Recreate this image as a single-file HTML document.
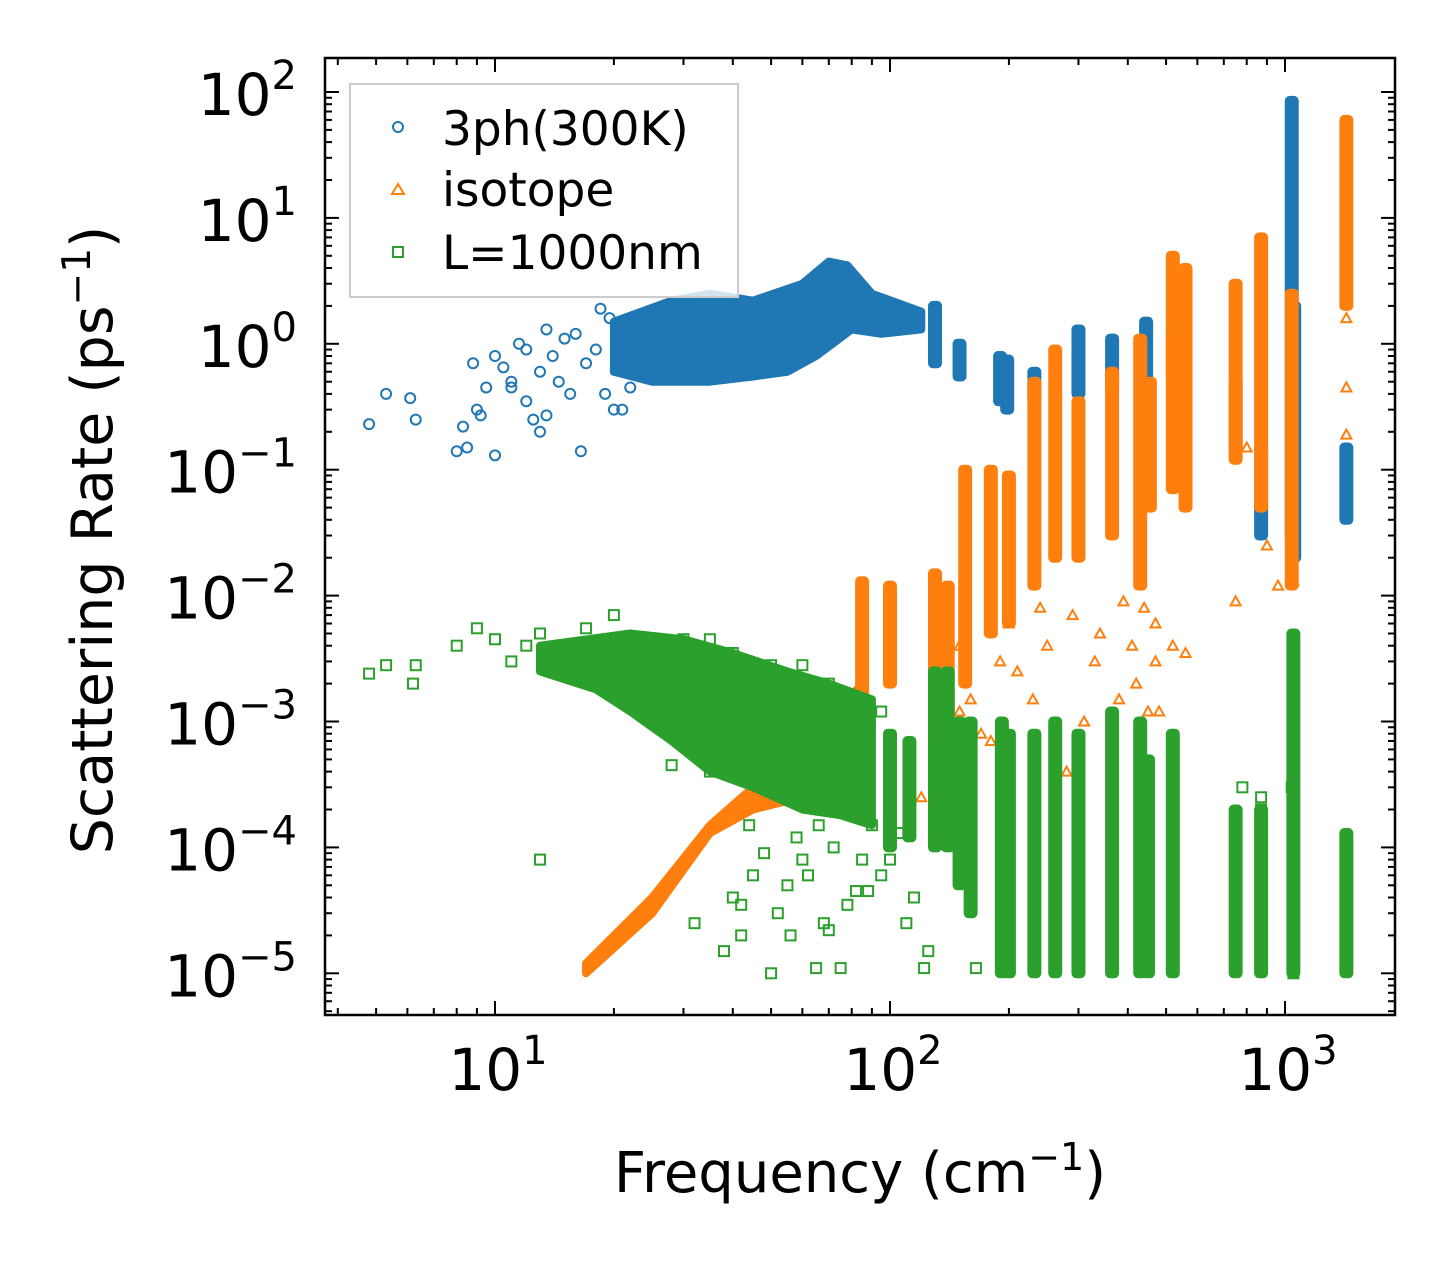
<!DOCTYPE html>
<html><head><meta charset="utf-8"><style>
html,body{margin:0;padding:0;background:#fff;}
svg{display:block;font-family:"DejaVu Sans","Liberation Sans",sans-serif;}
</style></head><body>
<svg id="chart" width="1455" height="1265" viewBox="0 0 1455 1265" xmlns="http://www.w3.org/2000/svg">
<rect width="1455" height="1265" fill="#fff"/>
<g id="marks"></g>
<g id="axes"></g>
<text x="860" y="1192" font-size="56" text-anchor="middle">Frequency (cm<tspan font-size="38" dy="-22">−1</tspan><tspan dy="22">)</tspan></text>
<text transform="translate(112,540) rotate(-90)" font-size="57" text-anchor="middle">Scattering Rate (ps<tspan font-size="39" dy="-22">−1</tspan><tspan dy="22">)</tspan></text>
<g>
<rect x="350" y="84" width="388" height="213" fill="#fff" fill-opacity="0.8" stroke="#ccc" stroke-width="2"/>
<circle cx="398" cy="127" r="5" fill="none" stroke="#1f77b4" stroke-width="2"/>
<text x="442" y="145" font-size="47">3ph(300K)</text>
<path d="M398,184 L404,194 L392,194 Z" fill="none" stroke="#ff7f0e" stroke-width="2"/>
<text x="442" y="206" font-size="47">isotope</text>
<rect x="393" y="247" width="10" height="10" fill="none" stroke="#2ca02c" stroke-width="2"/>
<text x="442" y="269" font-size="47">L=1000nm</text>
</g>
</svg>
<script>
const xTicks = [10, 100, 1000];
const xTickLabels = ["1", "2", "3"];
const yTicks = [1e2, 1e1, 1e0, 1e-1, 1e-2, 1e-3, 1e-4, 1e-5];
const yTickLabels = ["2", "1", "0", "\u22121", "\u22122", "\u22123", "\u22124", "\u22125"];

const bandFreq3ph = [130, 150, 190, 198, 232, 300, 365, 445, 520, 750, 870, 1040, 1055, 1430];
const bandLo3ph =   [0.7, 0.55, 0.35, 0.3, 0.35, 0.4, 0.45, 0.4, 0.55, 0.15, 0.03, 0.03, 0.02, 0.04];
const bandHi3ph =   [2.0, 1.0, 0.8, 0.75, 0.6, 1.3, 1.1, 1.5, 1.2, 0.5, 0.15, 85, 2.0, 0.15];

const bandFreqIso = [85, 100, 130, 140, 155, 180, 200, 232, 262, 300, 365, 430, 455, 520, 560, 750, 870, 1040, 1430];
const bandLoIso =   [0.0015, 0.002, 0.002, 0.001, 0.002, 0.005, 0.006, 0.012, 0.02, 0.02, 0.03, 0.012, 0.05, 0.07, 0.05, 0.12, 0.05, 0.012, 2];
const bandHiIso =   [0.013, 0.012, 0.015, 0.012, 0.1, 0.1, 0.09, 0.5, 0.9, 0.35, 0.6, 1.1, 0.5, 5, 4, 3, 7, 2.5, 60];

const bandFreqBd = [100, 112, 130, 140, 150, 160, 192, 200, 232, 262, 300, 365, 430, 450, 520, 750, 870, 1050, 1430];
const bandLoBd =   [1e-4, 1.2e-4, 1e-4, 1e-4, 5e-5, 3e-5, 1e-5, 1e-5, 1e-5, 1e-5, 1e-5, 1e-5, 1e-5, 1e-5, 1e-5, 1e-5, 1e-5, 1e-5, 1e-5];
const bandHiBd =   [8e-4, 7e-4, 2.5e-3, 2.5e-3, 1e-3, 1e-3, 1e-3, 8e-4, 8e-4, 1e-3, 8e-4, 1.2e-3, 1e-3, 5e-4, 8e-4, 2e-4, 2e-4, 5e-3, 1.3e-4];

const cloud3phX = [20, 28, 35, 45, 60, 70, 78, 90, 120, 120, 95, 80, 65, 55, 45, 35, 25, 20];
const cloud3phY = [1.5, 2.2, 2.5, 2.2, 3.0, 4.5, 4.2, 2.5, 1.8, 1.3, 1.2, 1.3, 0.8, 0.6, 0.55, 0.5, 0.5, 0.6];
const cloudIsoX = [17, 25, 35, 45, 60, 85, 90, 85, 60, 45, 35, 25, 17];
const cloudIsoY = [1.2e-5, 4e-5, 1.5e-4, 3e-4, 6e-4, 2e-3, 1e-3, 3e-4, 2.5e-4, 2e-4, 1.3e-4, 3e-5, 1e-5];
const cloudBdX = [13, 22, 30, 40, 55, 70, 90, 90, 75, 60, 45, 35, 28, 22, 18, 13];
const cloudBdY = [4e-3, 5e-3, 4.5e-3, 3.5e-3, 2.5e-3, 2e-3, 1.5e-3, 1.5e-4, 1.8e-4, 2e-4, 3e-4, 4e-4, 7e-4, 1.2e-3, 1.8e-3, 2.5e-3];

const pts3phX = [4.8, 5.3, 6.1, 6.3, 8, 8.3, 8.5, 8.8, 9, 9.5, 10, 10, 10.5, 11, 11.5, 12, 12.5, 13, 13, 13.5, 14, 14.5, 15, 15.5, 16, 16.5, 17, 18, 19, 19.5, 20, 13.5, 12, 9.2, 11, 21, 22, 18.5];
const pts3phY = [0.23, 0.4, 0.37, 0.25, 0.14, 0.22, 0.15, 0.7, 0.3, 0.45, 0.13, 0.8, 0.65, 0.5, 1.0, 0.9, 0.25, 0.2, 0.6, 1.3, 0.8, 0.5, 1.1, 0.4, 1.2, 0.14, 0.7, 0.9, 0.4, 1.6, 0.3, 0.27, 0.35, 0.27, 0.45, 0.3, 0.45, 1.9];
const ptsIsoX = [150, 160, 170, 190, 230, 250, 290, 310, 340, 380, 420, 470, 480, 560, 750, 800, 900, 960, 1050, 1430, 1430, 1430, 120, 180, 280, 450, 200, 240, 330, 410, 440, 470, 520, 390, 150, 210];
const ptsIsoY = [0.0012, 0.0015, 0.0008, 0.003, 0.0015, 0.004, 0.007, 0.001, 0.005, 0.0015, 0.002, 0.003, 0.0012, 0.0035, 0.009, 0.15, 0.025, 0.012, 0.013, 0.45, 0.19, 1.6, 0.00025, 0.0007, 0.0004, 0.0012, 0.006, 0.008, 0.003, 0.004, 0.008, 0.006, 0.004, 0.009, 0.004, 0.0025];
const ptsBdX = [4.8, 5.3, 6.3, 6.2, 8, 9, 10, 11, 12, 13, 14, 13, 17, 20, 25, 30, 35, 40, 45, 50, 60, 70, 80, 88, 95, 50, 55, 42, 38, 65, 75, 110, 122, 125, 165, 200, 780, 870, 1050, 1040, 870,
  40, 45, 48, 52, 58, 62, 68, 72, 78, 85, 90, 95, 105, 115, 35, 32, 44, 56, 66, 82, 100, 28, 42, 60, 70, 88];
const ptsBdY = [0.0024, 0.0028, 0.0028, 0.002, 0.004, 0.0055, 0.0045, 0.003, 0.004, 0.005, 0.0035, 8e-5, 0.0055, 0.007, 0.0045, 0.0045, 0.0045, 0.0035, 0.0018, 0.0028, 0.0028, 0.002, 0.0015, 0.0013, 0.0012, 1e-5, 5e-5, 2e-5, 1.5e-5, 1.1e-5, 1.1e-5, 2.5e-5, 1.1e-5, 1.5e-5, 1.1e-5, 1.2e-5, 3e-4, 2.5e-4, 1e-5, 3e-4, 2e-4,
  4e-5, 6e-5, 9e-5, 3e-5, 1.2e-4, 6e-5, 2.5e-5, 1e-4, 3.5e-5, 8e-5, 1.5e-4, 6e-5, 1.3e-4, 4e-5, 4e-4, 2.5e-5, 1.5e-4, 2e-5, 1.5e-4, 4.5e-5, 8e-5, 4.5e-4, 3.5e-5, 8e-5, 2.2e-5, 4.5e-5];

const L = 325, R = 1395, T = 58, B = 1015;
const x10 = 495, pxDecX = 395;
const y100 = 92, pxDecY = 125.9;
const xs = v => x10 + (Math.log10(v) - 1) * pxDecX;
const ys = v => y100 - (Math.log10(v) - 2) * pxDecY;
const NS = "http://www.w3.org/2000/svg";
const marks = document.getElementById('marks');
const axes = document.getElementById('axes');
function mk(tag, attrs, parent) {
  const e = document.createElementNS(NS, tag);
  for (const k in attrs) e.setAttribute(k, attrs[k]);
  parent.appendChild(e);
  return e;
}
const C3 = "#1f77b4", CI = "#ff7f0e", CB = "#2ca02c";

function cloud(X, Y, color, name) {
  const p = mk('polygon', {points: X.map((x, i) => xs(x) + ',' + ys(Y[i])).join(' '), fill: color, stroke: color, 'stroke-width': 8, 'stroke-linejoin': 'round'}, marks);
  
  
}
function bands(F, Lo, Hi, color, name) {
  F.forEach((f, i) => {
    const r = mk('rect', {x: xs(f) - 7, y: ys(Hi[i]) - 5, width: 14, height: ys(Lo[i]) - ys(Hi[i]) + 10, rx: 5, fill: color}, marks);
    
    
  });
}
function circles(X, Y, color, name) {
  X.forEach((x, i) => {
    const c = mk('circle', {cx: xs(x), cy: ys(Y[i]), r: 5, fill: 'none', stroke: color, 'stroke-width': 2}, marks);
    
    
  });
}
function tris(X, Y, color, name) {
  X.forEach((x, i) => {
    const cx = xs(x), cy = ys(Y[i]);
    const p = mk('path', {d: `M${cx},${cy - 5} L${cx + 5},${cy + 4} L${cx - 5},${cy + 4} Z`, fill: 'none', stroke: color, 'stroke-width': 2}, marks);
    
    
  });
}
function squares(X, Y, color, name) {
  X.forEach((x, i) => {
    const s = mk('rect', {x: xs(x) - 5, y: ys(Y[i]) - 5, width: 10, height: 10, fill: 'none', stroke: color, 'stroke-width': 2}, marks);
    
    
  });
}
cloud(cloud3phX, cloud3phY, C3, '3ph-cloud');
bands(bandFreq3ph, bandLo3ph, bandHi3ph, C3, '3ph-band');
circles(pts3phX, pts3phY, C3, '3ph-point');
cloud(cloudIsoX, cloudIsoY, CI, 'isotope-cloud');
bands(bandFreqIso, bandLoIso, bandHiIso, CI, 'isotope-band');
tris(ptsIsoX, ptsIsoY, CI, 'isotope-point');
cloud(cloudBdX, cloudBdY, CB, 'boundary-cloud');
bands(bandFreqBd, bandLoBd, bandHiBd, CB, 'boundary-band');
squares(ptsBdX, ptsBdY, CB, 'boundary-point');

const fr = mk('rect', {x: L, y: T, width: R - L, height: B - T, fill: 'none', stroke: '#000', 'stroke-width': 2.5}, axes);


for (let d = 0; d <= 3; d++) {
  for (let m = 1; m <= 9; m++) {
    const v = m * Math.pow(10, d);
    const x = xs(v);
    if (x < L || x > R) continue;
    const len = m === 1 ? 14 : 7;
    mk('line', {x1: x, y1: B, x2: x, y2: B - len, stroke: '#000', 'stroke-width': 2}, axes);
    mk('line', {x1: x, y1: T, x2: x, y2: T + len, stroke: '#000', 'stroke-width': 2}, axes);
  }
}
for (let d = -6; d <= 2; d++) {
  for (let m = 1; m <= 9; m++) {
    const v = m * Math.pow(10, d);
    const y = ys(v);
    if (y < T || y > B) continue;
    const len = m === 1 ? 14 : 7;
    mk('line', {x1: L, y1: y, x2: L + len, y2: y, stroke: '#000', 'stroke-width': 2}, axes);
    mk('line', {x1: R, y1: y, x2: R - len, y2: y, stroke: '#000', 'stroke-width': 2}, axes);
  }
}
xTicks.forEach((v, i) => {
  const t = mk('text', {x: xs(v) + 3, y: 1090, 'font-size': 58, 'text-anchor': 'middle'}, axes);
  
  
  t.innerHTML = `10<tspan font-size="40" dy="-26">${xTickLabels[i]}</tspan>`;
});
yTicks.forEach((v, i) => {
  const t = mk('text', {x: 297, y: ys(v) + 23, 'font-size': 58, 'text-anchor': 'end'}, axes);
  
  
  t.innerHTML = `10<tspan font-size="40" dy="-26">${yTickLabels[i]}</tspan>`;
});
</script>
</body></html>
